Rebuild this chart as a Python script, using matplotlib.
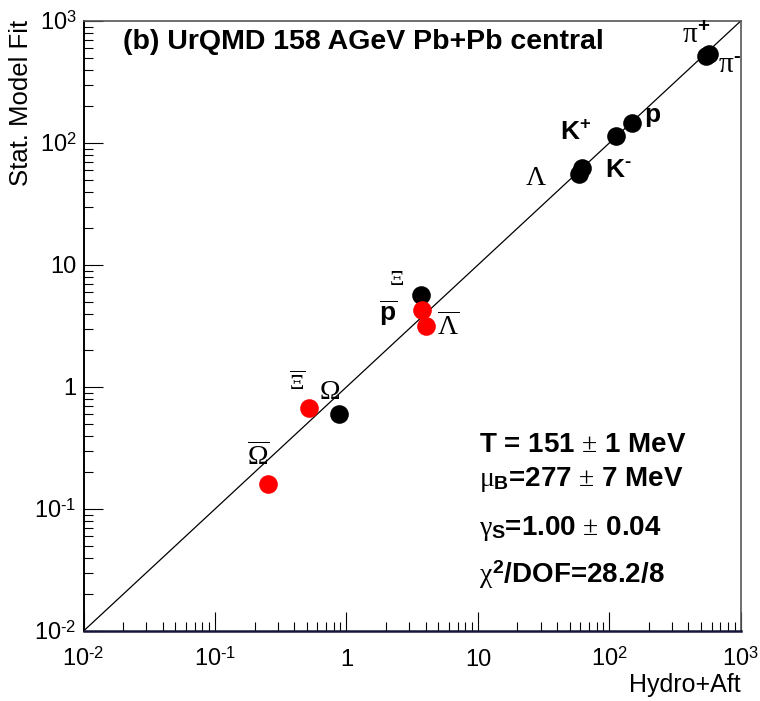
import matplotlib
matplotlib.use("Agg")
import matplotlib.pyplot as plt

plt.rcParams['font.family'] = ['Liberation Sans', 'DejaVu Sans']
plt.rcParams['mathtext.fontset'] = 'custom'
plt.rcParams['mathtext.rm'] = 'Liberation Serif'
plt.rcParams['mathtext.it'] = 'Liberation Serif'
plt.rcParams['mathtext.bf'] = 'Liberation Sans:bold'
plt.rcParams['mathtext.sf'] = 'Liberation Sans'

# particle yields: Hydro+Aft (x) vs statistical model fit (y)
black_names = ['pi+', 'pi-', 'p', 'K+', 'Lambda', 'K-', 'Xi', 'Omega']
black_hydro = [540, 572, 148, 112, 59, 62, 3.70, 0.87]
black_fit = [515, 540, 147, 113, 56, 62, 5.68, 0.60]

red_names = ['pbar', 'Lambdabar', 'Xibar', 'Omegabar']
red_hydro = [3.74, 4.01, 0.52, 0.252]
red_fit = [4.28, 3.18, 0.668, 0.159]

HY = '\u2010'  # short dash, like the original's superscript minus

# label text and where it sits (data coords)
labels = [
    (r'$\pi^{\mathbf{+}}$', 463, 768, 21),
    (r'$\pi^{\mathbf{' + HY + '}}$', 829, 436, 21),
    (r'$\mathbf{p}$', 214, 164, 19),
    (r'$\mathbf{K^{+}}$', 55, 121, 19),
    (r'$\mathbf{K^{' + HY + '}}$', 117, 60, 19),
    (r'$\Lambda$', 27.7, 51.6, 20),
    (r'$\Xi$', 2.39, 7.54, 16),
    (r'$\overline{\mathbf{p}}$', 2.07, 4.04, 19),
    (r'$\overline{\Lambda}$', 5.93, 3.12, 20),
    (r'$\overline{\Xi}$', 0.419, 1.07, 16),
    (r'$\Omega$', 0.738, 0.915, 20),
    (r'$\overline{\Omega}$', 0.213, 0.268, 20),
]

tick_vals = [1e-2, 1e-1, 1, 10, 1e2, 1e3]
tick_text = [r'$\mathsf{10}^{\mathsf{' + HY + '2}}$', r'$\mathsf{10}^{\mathsf{' + HY + '1}}$',
             '1', '10', r'$\mathsf{10}^{\mathsf{2}}$', r'$\mathsf{10}^{\mathsf{3}}$']

fit_lines = [
    r'T = 151 $\pm$ 1 MeV',
    r'$\mu_{\mathbf{B}}$=277 $\pm$ 7 MeV',
    r'$\gamma_{\mathbf{S}}$=1.00 $\pm$ 0.04',
    r'$\chi^{\mathbf{2}}$/DOF=28.2/8',
]
fit_baselines = [0.3556, 0.3067, 0.2368, 0.1683]

lo, hi = 1e-2, 1e3

fig = plt.figure(figsize=(7.6, 7.01), dpi=100)
ax = fig.add_axes([0.110, 0.0999, 0.8647, 0.8702])
ax.set_xscale('log')
ax.set_yscale('log')
ax.set_xlim(lo, hi)
ax.set_ylim(lo, hi)

ax.plot([lo, hi], [lo, hi], color='black', lw=0.9, zorder=2)
ax.scatter(black_hydro, black_fit, s=180, color='black', zorder=3, linewidths=0)
ax.scatter(red_hydro, red_fit, s=180, color='red', zorder=3, linewidths=0)

for txt, lx, ly, fs in labels:
    ax.text(lx, ly, txt, fontsize=fs, ha='center', va='center')

ax.set_xticks(tick_vals)
ax.set_xticklabels(tick_text)
ax.set_yticks(tick_vals)
ax.set_yticklabels(tick_text)
ax.tick_params(which='both', direction='in', top=False, right=False, width=0.8,
               labelsize=17, color='black')
ax.tick_params(which='major', length=13.7)
ax.tick_params(which='minor', length=6.5)
ax.tick_params(axis='y', pad=5)
ax.tick_params(axis='x', pad=25)
for lab in ax.get_xticklabels():
    lab.set_verticalalignment('baseline')

for side in ['top', 'right']:
    ax.spines[side].set_color('#555555')
    ax.spines[side].set_linewidth(1.2)
ax.spines['left'].set_color('black')
ax.spines['left'].set_linewidth(1.4)
ax.spines['bottom'].set_color('#15153a')
ax.spines['bottom'].set_linewidth(1.8)

fig.text(0.162, 0.9297, '(b) UrQMD 158 AGeV Pb+Pb central', fontsize=20.5,
         fontweight='bold', va='baseline')

for line, yb in zip(fit_lines, fit_baselines):
    fig.text(0.630, yb, line, fontsize=20, fontweight='bold', va='baseline')

fig.text(0.974, 0.005, 'Hydro+Aft', fontsize=18, ha='right', va='bottom')
fig.text(0.012, 0.972, 'Stat. Model Fit', fontsize=18.5, rotation=90, ha='left', va='top')

fig.savefig('out.png', dpi=100)
